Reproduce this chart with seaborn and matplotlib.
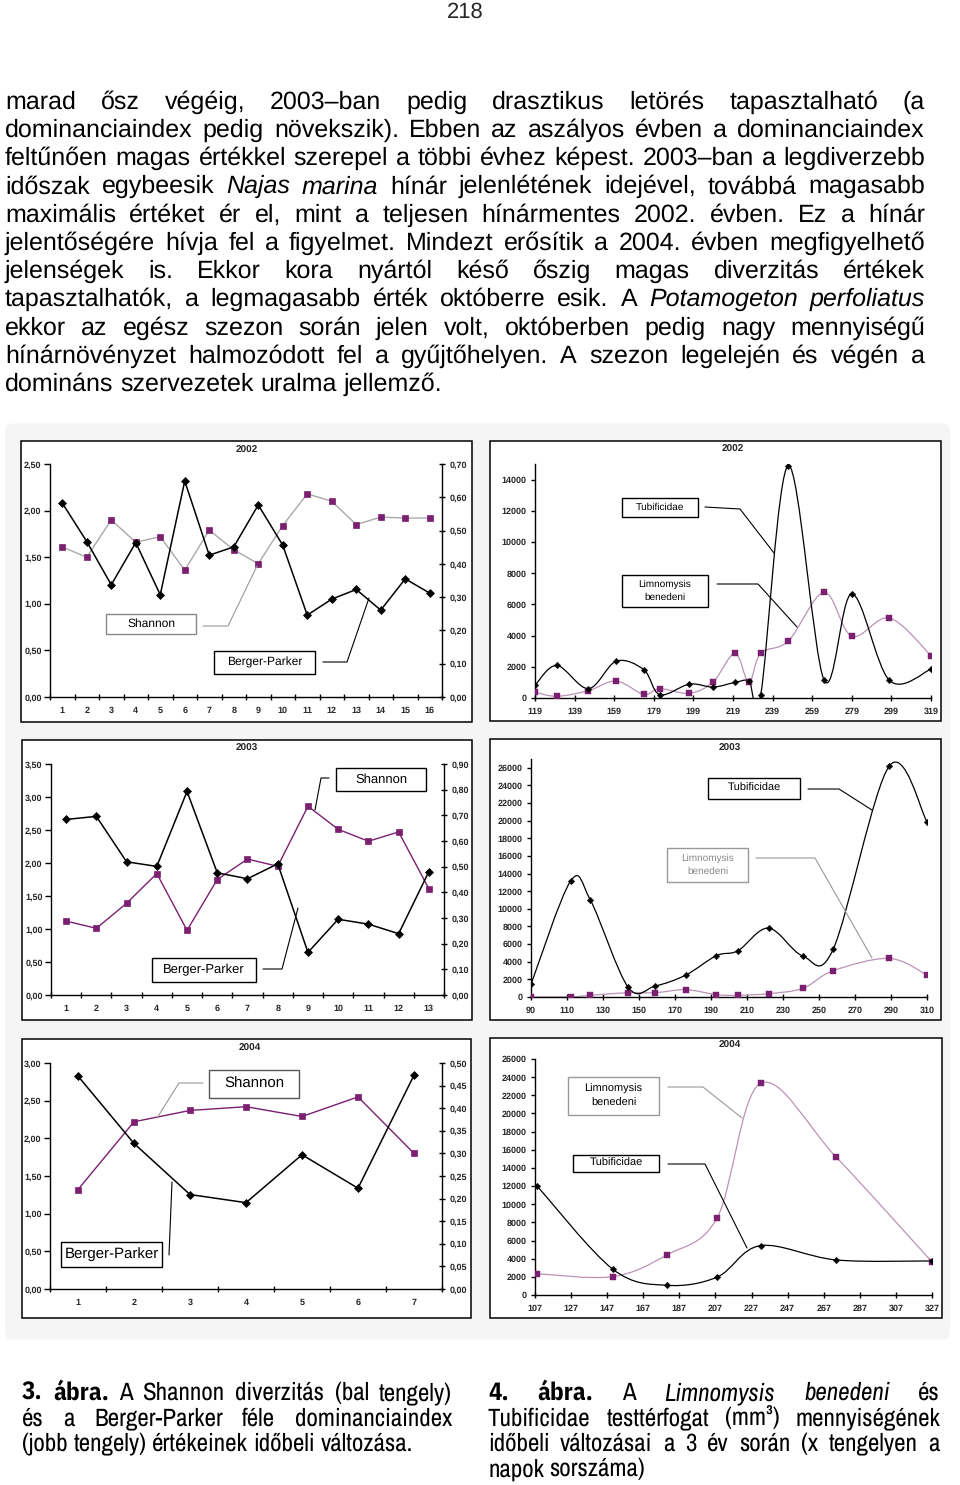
import numpy as np
import matplotlib
matplotlib.use("Agg")
import matplotlib.pyplot as plt
import seaborn as sns
from matplotlib.path import Path
from matplotlib.patches import PathPatch, Rectangle, FancyBboxPatch
from matplotlib.lines import Line2D
from matplotlib import font_manager as fm

# --- ADATOK ---
# Shannon (bal tengely) es Berger-Parker (jobb tengely), mintaveteli sorszam szerint
sh_02 = [1.61, 1.50, 1.90, 1.66, 1.72, 1.36, 1.79, 1.58, 1.43, 1.84, 2.18, 2.10, 1.85, 1.93, 1.92, 1.92]
bp_02 = [0.583, 0.467, 0.337, 0.464, 0.307, 0.649, 0.426, 0.451, 0.577, 0.456, 0.246, 0.294, 0.323, 0.261, 0.355, 0.312]
sh_03 = [1.12, 1.01, 1.39, 1.84, 0.98, 1.75, 2.06, 1.95, 2.86, 2.51, 2.33, 2.47, 1.61]
bp_03 = [0.684, 0.696, 0.519, 0.501, 0.793, 0.476, 0.453, 0.511, 0.166, 0.295, 0.276, 0.239, 0.481]
sh_04 = [1.32, 2.22, 2.37, 2.42, 2.29, 2.55, 1.80]
bp_04 = [0.471, 0.322, 0.209, 0.191, 0.297, 0.223, 0.473]

# Tubificidae es Limnomysis benedeni testterfogat (mm3), napok sorszama szerint
day_02 = [119, 130, 146, 160, 174, 182, 197, 209, 220, 227, 233, 247, 265, 279, 298, 319]
tub_02 = [810, 2090, 600, 2360, 1810, 210, 890, 700, 1000, 1100, 210, 14900, 1150, 6680, 1130, 1850]
lim_02 = [380, 110, 470, 1090, 230, 600, 300, 1040, 2870, 1000, 2870, 3660, 6770, 3960, 5130, 2720]
day_03 = [90, 112, 123, 144, 159, 176, 193, 205, 222, 241, 258, 289, 310]
tub_03 = [1440, 13150, 11000, 1100, 1250, 2490, 4690, 5250, 7820, 4650, 5480, 26190, 19880]
lim_03 = [0, 0, 190, 490, 490, 830, 270, 190, 380, 980, 2990, 4380, 2490]
day_04 = [108, 150, 180, 208, 232, 274, 327]
tub_04 = [12050, 2860, 1070, 1980, 5440, 3860, 3750]
lim_04 = [2350, 2020, 4410, 8520, 23320, 15170, 3640]

# --- SZOVEG ---
page_no = "218"
body_lines = [
    "marad ősz végéig, 2003–ban pedig drasztikus letörés tapasztalható (a",
    "dominanciaindex pedig növekszik). Ebben az aszályos évben a dominanciaindex",
    "feltűnően magas értékkel szerepel a többi évhez képest. 2003–ban a legdiverzebb",
    "időszak egybeesik _Najas_ _marina_ hínár jelenlétének idejével, továbbá magasabb",
    "maximális értéket ér el, mint a teljesen hínármentes 2002. évben. Ez a hínár",
    "jelentőségére hívja fel a figyelmet. Mindezt erősítik a 2004. évben megfigyelhető",
    "jelenségek is. Ekkor kora nyártól késő őszig magas diverzitás értékek",
    "tapasztalhatók, a legmagasabb érték októberre esik. A _Potamogeton_ _perfoliatus_",
    "ekkor az egész szezon során jelen volt, októberben pedig nagy mennyiségű",
    "hínárnövényzet halmozódott fel a gyűjtőhelyen. A szezon legelején és végén a",
    "domináns szervezetek uralma jellemző.",
]
cap_left = [
    "*3.* *ábra.* A Shannon diverzitás (bal tengely)",
    "és a Berger-Parker féle dominanciaindex",
    "(jobb tengely) értékeinek időbeli változása.",
]
cap_right = [
    "*4.* *ábra.* A _Limnomysis_ _benedeni_ és",
    "Tubificidae testtérfogat (mm³) mennyiségének",
    "időbeli változásai a 3 év során (x tengelyen a",
    "napok sorszáma)",
]

# --- STILUS ---
W, H = 960, 1485
PURPLE = "#7b1f70"
PINK = "#bb93b5"
sns.set_theme(style="white")
plt.rcParams["font.family"] = ["Liberation Sans", "DejaVu Sans"]
plt.rcParams["axes.linewidth"] = 1.0
plt.rcParams["text.hinting"] = "no_hinting"
plt.rcParams["text.hinting_factor"] = 1

installed = {f.name for f in fm.fontManager.ttflist}
BODY = ["Liberation Sans", "DejaVu Sans"]
NARROW = [f for f in ["Archivo Narrow", "DejaVu Sans"] if f in installed] or ["Liberation Sans"]
NARROW_B = [f for f in ["IBM Plex Sans Condensed", "Barlow Semi Condensed", "DejaVu Sans"] if f in installed] or ["Liberation Sans"]

fig = plt.figure(figsize=(W / 100, H / 100), dpi=100)
fig.patch.set_facecolor("white")
renderer = fig.canvas.get_renderer()


def fx(x):
    return x / W


def fy(y):
    return 1 - y / H


def frac(l, t, r, b):
    return [l / W, 1 - b / H, (r - l) / W, (b - t) / H]


def parse(line, fam, fam_b):
    toks = []
    for w in line.split(" "):
        style, weight, f = "normal", "normal", fam
        if w.startswith("_") and w.endswith("_"):
            w, style = w[1:-1], "italic"
        if w.startswith("*") and w.endswith("*"):
            w, weight, f = w[1:-1], "bold", fam_b
        toks.append((w, style, weight, f))
    return toks


def make(s, size, fam, stretch, style="normal", weight="normal", y=0.0):
    return fig.text(0, y, s, fontsize=size, family=fam, fontstretch=stretch, style=style,
                    weight=weight, va="baseline", ha="left", color="black")


def width_of(s, size, fam, stretch, style="normal", weight="normal"):
    t = make(s, size, fam, stretch, style, weight)
    w = t.get_window_extent(renderer).width
    t.remove()
    return w


def space_of(size, fam, stretch):
    return width_of("x x", size, fam, stretch) - width_of("xx", size, fam, stretch)


def natural_width(line, size, fam, fam_b, stretch):
    toks = parse(line, fam, fam_b)
    return (sum(width_of(w, size, f, stretch, s, wt) for w, s, wt, f in toks)
            + space_of(size, fam, stretch) * (len(toks) - 1))


def put_line(line, x0, x1, y, size, fam, fam_b, stretch, justify):
    toks = parse(line, fam, fam_b)
    arts = [make(w, size, f, stretch, s, wt, fy(y)) for w, s, wt, f in toks]
    widths = [a.get_window_extent(renderer).width for a in arts]
    if justify and len(arts) > 1:
        gap = (x1 - x0 - sum(widths)) / (len(arts) - 1)
    else:
        gap = space_of(size, fam, stretch)
    x = x0
    for a, w in zip(arts, widths):
        a.set_x(fx(x))
        x += w + gap


def put_block(lines, x0, x1, y0, dy, size, fam, fam_b, stretch="normal"):
    for i, line in enumerate(lines):
        put_line(line, x0, x1, y0 + i * dy, size, fam, fam_b, stretch, justify=(i < len(lines) - 1))


# --- OLDAL SZOVEG ---
fig.text(fx(465), fy(18), page_no, fontsize=16, family=BODY, ha="center", va="baseline")

body_size = min(18.0, 10 * 918 / natural_width(body_lines[2], 10, BODY, BODY, "normal"))
put_block(body_lines, 5, 925, 108.5, 28.25, body_size, BODY, BODY)

cap_size = min(10 * 428 / natural_width(cap_left[0], 10, NARROW, NARROW_B, "condensed"),
               10 * 450 / natural_width(cap_right[1], 10, NARROW, NARROW_B, "condensed"), 18)
put_block(cap_left, 22, 452, 1400, 25.4, cap_size, NARROW, NARROW_B, "condensed")
put_block(cap_right, 488, 940, 1400, 25.4, cap_size, NARROW, NARROW_B, "condensed")

# --- ABRA HATTER ES KERETEK ---
fig.add_artist(FancyBboxPatch((fx(8), fy(1335)), (947 - 8) / W, (1335 - 428) / H,
                              boxstyle="round,pad=0.003,rounding_size=0.006",
                              transform=fig.transFigure, fc="#f5f5f5", ec="none", zorder=-3))
frames = [(21, 441, 472, 722), (490, 441, 941, 721), (22, 740, 472, 1020),
          (490, 739, 941, 1020), (22, 1039, 471, 1318), (490, 1038, 942, 1318)]
for l, t, r, b in frames:
    fig.add_artist(Rectangle((fx(l), fy(b)), (r - l) / W, (b - t) / H, transform=fig.transFigure,
                             fc="white", ec="black", lw=1.1, zorder=-2))


def comma(v, dec):
    return f"{v:.{dec}f}".replace(".", ",")


def index_panel(box, title_xy, sh, bp, ymax_l, step_l, ymax_r, step_r, sh_line):
    ax = fig.add_axes(frac(*box))
    ax2 = ax.twinx()
    n = len(sh)
    pos = np.arange(1, n + 1)
    sns.lineplot(x=pos, y=sh, ax=ax, color=sh_line, lw=1.0, marker="s", ms=4.2,
                 mfc=PURPLE, mec=PURPLE, mew=0.5)
    sns.lineplot(x=pos, y=bp, ax=ax2, color="black", lw=1.1, marker="D", ms=3.6,
                 mfc="black", mec="black", mew=0.5)
    ax.set_xlim(0.5, n + 0.5)
    ax.set_ylim(0, ymax_l)
    ax2.set_ylim(0, ymax_r)
    lt = np.arange(0, ymax_l + 1e-9, step_l)
    rt = np.arange(0, ymax_r + 1e-9, step_r)
    ax.set_yticks(lt, [comma(v, 2) for v in lt])
    ax2.set_yticks(rt, [comma(v, 2) for v in rt])
    ax.set_xticks(pos, [str(p) for p in pos])
    ax.set_xticks(np.arange(0.5, n + 1), minor=True)
    ax.tick_params(axis="x", which="major", length=0, pad=7, labelsize=6.8)
    ax.tick_params(axis="x", which="minor", length=5, width=1.0, direction="inout", color="black", bottom=True)
    ax.tick_params(axis="y", length=4, width=1.0, direction="out", pad=2, labelsize=6.8, color="black", left=True)
    ax2.tick_params(axis="y", length=5, width=1.0, direction="inout", pad=3, labelsize=6.8, color="black", right=True)
    for a in (ax, ax2):
        a.set_facecolor("none")
        a.set_xlabel("")
        a.set_ylabel("")
        a.spines["top"].set_visible(False)
        for s in ("left", "right", "bottom"):
            a.spines[s].set_color("black")
        for lab in a.get_xticklabels() + a.get_yticklabels():
            lab.set_fontweight("bold")
    ax.spines["right"].set_visible(False)
    ax2.spines["left"].set_visible(False)
    ax2.spines["bottom"].set_visible(False)
    fig.text(fx(title_xy[0]), fy(title_xy[1]), title_xy[2], fontsize=7.5, weight="bold",
             ha="center", va="center")


def smooth(ax, x, y, color, lw):
    # Excel-szeru simitott vonal: Catmull-Rom Bezier szakaszok a mert pontok kozott
    pts = np.column_stack([x, y]).astype(float)
    n = len(pts)
    verts, codes = [pts[0]], [Path.MOVETO]
    for i in range(n - 1):
        p0 = pts[i - 1] if i > 0 else pts[i]
        p1, p2 = pts[i], pts[i + 1]
        p3 = pts[i + 2] if i + 2 < n else pts[i + 1]
        verts += [p1 + (p2 - p0) / 6, p2 - (p3 - p1) / 6, p2]
        codes += [Path.CURVE4] * 3
    ax.add_patch(PathPatch(Path(verts, codes), fc="none", ec=color, lw=lw, zorder=2))


def volume_panel(box, title_xy, day, tub, lim, xlim, xstep, ymax, ytop):
    ax = fig.add_axes(frac(*box))
    smooth(ax, day, lim, PINK, 0.9)
    smooth(ax, day, tub, "black", 0.9)
    sns.scatterplot(x=day, y=lim, ax=ax, marker="s", s=16, color=PURPLE, edgecolor=PURPLE, linewidth=0.3, zorder=4)
    sns.scatterplot(x=day, y=tub, ax=ax, marker="D", s=11, color="black", edgecolor="black", linewidth=0.3, zorder=4)
    ax.set_xlim(*xlim)
    ax.set_ylim(0, ytop)
    xt = np.arange(xlim[0], xlim[1] + 1, xstep)
    ax.set_xticks(xt, [str(v) for v in xt])
    yt = np.arange(0, ymax + 1, 2000)
    ax.set_yticks(yt, [str(v) for v in yt])
    ax.tick_params(axis="x", length=4, width=1.0, direction="inout", pad=5, labelsize=6.3, color="black", bottom=True)
    ax.tick_params(axis="y", length=3, width=1.0, direction="out", pad=3, labelsize=6.3, color="black", left=True)
    ax.set_facecolor("none")
    ax.set_xlabel("")
    ax.set_ylabel("")
    for s in ("top", "right"):
        ax.spines[s].set_visible(False)
    for s in ("left", "bottom"):
        ax.spines[s].set_color("black")
    for lab in ax.get_xticklabels() + ax.get_yticklabels():
        lab.set_fontweight("bold")
    fig.text(fx(title_xy[0]), fy(title_xy[1]), title_xy[2], fontsize=7.5, weight="bold",
             ha="center", va="center")


index_panel((50, 464, 442, 697), (247, 450, "2002"), sh_02, bp_02, 2.5, 0.5, 0.7, 0.1, "#a9a9a9")
index_panel((51, 764, 444, 995), (247, 748, "2003"), sh_03, bp_03, 3.5, 0.5, 0.9, 0.1, PURPLE)
index_panel((50, 1063, 442, 1289), (250, 1048, "2004"), sh_04, bp_04, 3.0, 0.5, 0.5, 0.05, PURPLE)

volume_panel((535, 464, 931, 698), (733, 449, "2002"), day_02, tub_02, lim_02, (119, 319), 20, 14000, 15000)
volume_panel((531, 759, 927, 997), (730, 748, "2003"), day_03, tub_03, lim_03, (90, 310), 20, 26000, 27000)
volume_panel((535, 1059, 932, 1295), (730, 1045, "2004"), day_04, tub_04, lim_04, (107, 327), 20, 26000, 26000)

# --- FELIRAT DOBOZOK (szoveg, doboz, meret, keretszin, szovegszin, vezetovonal) ---
labels = [
    ("Shannon", (106, 614, 196, 634), 8.5, "#888888", "black", [(203, 626), (228, 626), (257, 566)]),
    ("Berger-Parker", (214, 651, 315, 674), 8.5, "black", "black", [(323, 662), (347, 662), (369, 598)]),
    ("Tubificidae", (622, 498, 698, 517), 7.5, "black", "black", [(705, 507), (740, 509), (774, 553)]),
    ("Limnomysis\nbenedeni", (622, 575, 708, 607), 7.5, "black", "black", [(717, 584), (758, 584), (797, 627)]),
    ("Shannon", (336, 768, 426, 791), 9, "black", "black", [(329, 778), (321, 778), (315, 810)]),
    ("Berger-Parker", (152, 958, 256, 982), 9, "black", "black", [(263, 969), (282, 969), (298, 908)]),
    ("Tubificidae", (708, 778, 800, 799), 8, "black", "black", [(808, 789), (839, 789), (872, 810)]),
    ("Limnomysis\nbenedeni", (667, 848, 748, 882), 7.5, "#999999", "#888888", [(756, 858), (815, 858), (872, 958)]),
    ("Shannon", (209, 1070, 299, 1098), 10.5, "#555555", "black", [(203, 1083), (179, 1083), (157, 1118)]),
    ("Berger-Parker", (61, 1242, 162, 1267), 10.5, "black", "black", [(169, 1255), (172, 1182)]),
    ("Limnomysis\nbenedeni", (568, 1077, 659, 1115), 8, "#999999", "black", [(668, 1087), (703, 1087), (742, 1118)]),
    ("Tubificidae", (573, 1155, 659, 1172), 8, "black", "black", [(668, 1164), (705, 1164), (747, 1248)]),
]
for text, (l, t, r, b), size, ec, tc, leader in labels:
    fig.add_artist(Rectangle((fx(l), fy(b)), (r - l) / W, (b - t) / H, transform=fig.transFigure,
                             fc="white", ec=ec, lw=1.0, zorder=5))
    fig.text(fx((l + r) / 2), fy((t + b) / 2), text, fontsize=size, color=tc, ha="center", va="center",
             linespacing=1.5, zorder=6)
    lx, ly = zip(*leader)
    lc = "#999999" if ec != "black" else "black"
    fig.add_artist(Line2D([fx(v) for v in lx], [fy(v) for v in ly], transform=fig.transFigure,
                          color=lc, lw=0.8, zorder=6))

fig.savefig("out.png", dpi=100, facecolor="white")
